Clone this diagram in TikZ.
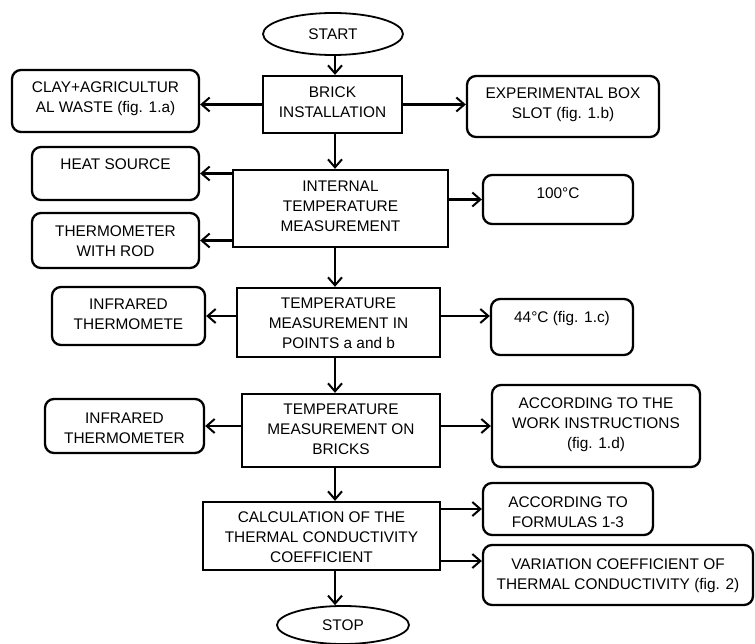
\documentclass[tikz,border=0pt]{standalone}
\usepackage{fontspec}
\setmainfont{Liberation Sans}
\usetikzlibrary{arrows.meta,shapes.geometric}
\begin{document}
\begin{tikzpicture}[x=1pt,y=-1pt,
  every node/.style={font=\fontsize{15.4}{20}\selectfont, align=center, inner sep=0pt},
  procbox/.style={draw, line width=2.3pt, rectangle},
  sidebox/.style={draw, line width=2.3pt, rounded corners=9pt},
  term/.style={draw, line width=1.8pt, ellipse},
  arr/.style={line width=2.3pt, -{Straight Barb[length=8pt,width=14pt,line width=2pt]}}
]
\useasboundingbox (0,0) rectangle (755,644);
\coordinate (col) at (335,0);

% terminals
\node[term, minimum width=140pt, minimum height=42pt] (start) at (333,34) {START};
\node[term, minimum width=132pt, minimum height=38pt] (stop) at (343,625) {STOP};

% main process boxes
\node[procbox, minimum width=139pt, minimum height=57pt] (brick) at (332.5,104.5) {};
\node (bricktxt) at (332.5,102) {BRICK\\INSTALLATION};

\node[procbox, minimum width=215pt, minimum height=77pt] (internal) at (340.5,208.5) {};
\node (internaltxt) at (340.5,206) {INTERNAL\\TEMPERATURE\\MEASUREMENT};

\node[procbox, minimum width=203pt, minimum height=69pt] (points) at (338.5,322.5) {};
\node (pointstxt) at (338.5,323.5) {TEMPERATURE\\MEASUREMENT IN\\POINTS a and b};

\node[procbox, minimum width=198pt, minimum height=73pt] (bricks) at (341,430.5) {};
\node (brickstxt) at (341,429.5) {TEMPERATURE\\MEASUREMENT ON\\BRICKS};

\node[procbox, minimum width=237pt, minimum height=68pt] (calc) at (321.5,536) {};
\node (calctxt) at (321.5,537.5) {CALCULATION OF THE\\THERMAL CONDUCTIVITY\\COEFFICIENT};

% side boxes
\node[sidebox, minimum width=187pt, minimum height=62pt] (clay) at (105.5,101) {};
\node (claytxt) at (105.5,99) {CLAY+AGRICULTUR\\AL WASTE (fig. 1.a)};

\node[sidebox, minimum width=192pt, minimum height=61pt] (exp) at (563,106.5) {};
\node (exptxt) at (563,105) {EXPERIMENTAL BOX\\SLOT (fig. 1.b)};

\node[sidebox, minimum width=167pt, minimum height=53pt] (heat) at (115.5,173.5) {};
\node (heattxt) at (115.5,164) {HEAT SOURCE};

\node[sidebox, minimum width=167pt, minimum height=55pt] (thermo) at (115.5,240.5) {};
\node (thermotxt) at (115.5,241.5) {THERMOMETER\\WITH ROD};

\node[sidebox, minimum width=150pt, minimum height=49pt] (hundred) at (558,199.5) {};
\node (hundredtxt) at (558,193) {100\textdegree C};

\node[sidebox, minimum width=153pt, minimum height=58pt] (infra) at (128.5,316) {};
\node (infratxt) at (128.5,314.5) {INFRARED\\THERMOMETE};

\node[sidebox, minimum width=142pt, minimum height=56pt] (cfour) at (562,327) {};
\node (cfourtxt) at (562,319) {44\textdegree C (fig. 1.c)};

\node[sidebox, minimum width=159pt, minimum height=54pt] (infrb) at (124.5,426) {};
\node (infrbtxt) at (124.5,428) {INFRARED\\THERMOMETER};

\node[sidebox, minimum width=208pt, minimum height=82pt] (work) at (596,426) {};
\node (worktxt) at (596,424.5) {ACCORDING TO THE\\WORK INSTRUCTIONS\\(fig. 1.d)};

\node[sidebox, minimum width=170pt, minimum height=52pt] (formulas) at (568,509) {};
\node (formulastxt) at (568,512) {ACCORDING TO\\FORMULAS 1-3};

\node[sidebox, minimum width=270pt, minimum height=60pt] (variation) at (618,575) {};
\node (variationtxt) at (618,576) {VARIATION COEFFICIENT OF\\THERMAL CONDUCTIVITY (fig. 2)};
\coordinate (vin) at ([yshift=14pt]variation.west);

% main flow
\draw[arr] (start.south -| col) -- (brick.north -| col);
\draw[arr] (brick.south -| col) -- (internal.north -| col);
\draw[arr] (internal.south -| col) -- (points.north -| col);
\draw[arr] (points.south -| col) -- (bricks.north -| col);
\draw[arr] (bricks.south -| col) -- (calc.north -| col);
\draw[arr] (calc.south -| col) -- (stop.north -| col);

% side connectors
\draw[arr] (brick.west) -- (clay.east |- brick.west);
\draw[arr] (brick.east) -- (exp.west |- brick.east);
\draw[arr] (internal.west |- heat.east) -- (heat.east);
\draw[arr] (internal.west |- thermo.east) -- (thermo.east);
\draw[arr] (internal.east |- hundred.west) -- (hundred.west);
\draw[arr] (points.west |- infra.east) -- (infra.east);
\draw[arr] (points.east |- infra.east) -- (cfour.west |- infra.east);
\draw[arr] (bricks.west |- infrb.east) -- (infrb.east);
\draw[arr] (bricks.east |- work.west) -- (work.west);
\draw[arr] (calc.east |- formulas.west) -- (formulas.west);
\draw[arr] (calc.east |- vin) -- (vin);
\end{tikzpicture}
\end{document}
